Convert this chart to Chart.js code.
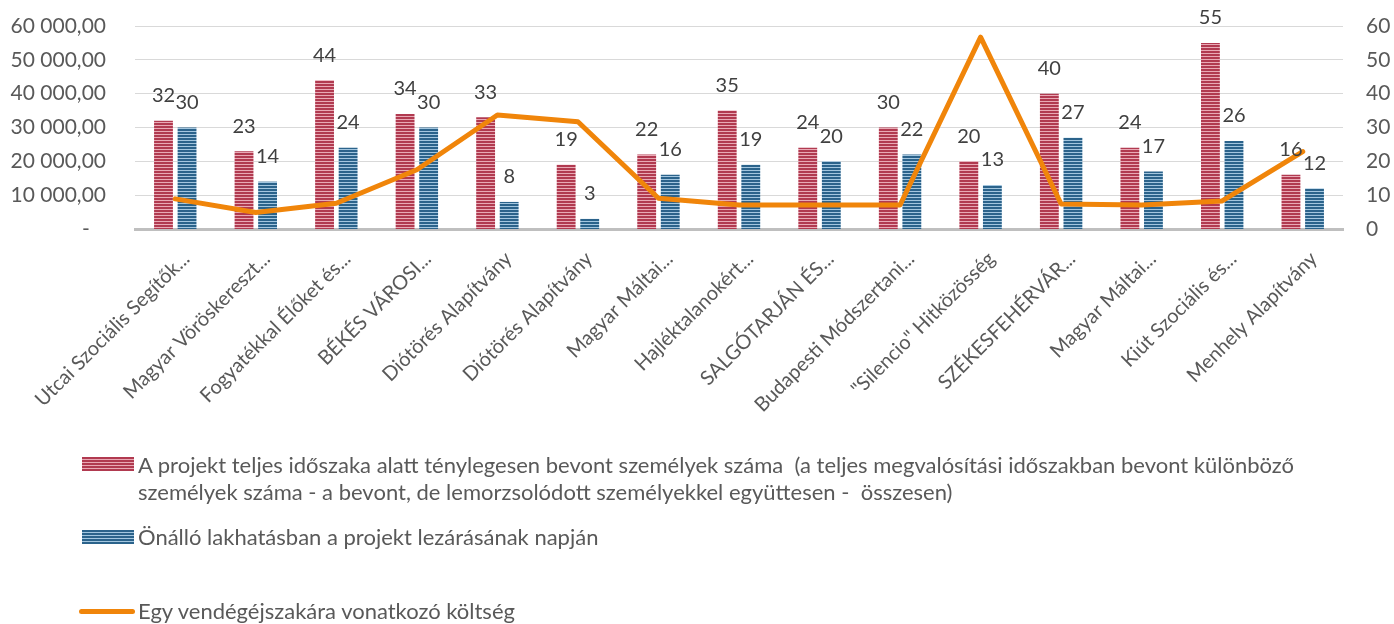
<!DOCTYPE html>
<html>
<head>
<meta charset="utf-8">
<script src="https://cdn.jsdelivr.net/npm/chart.js@4/dist/chart.umd.min.js"></script>
<style>
  html, body { margin: 0; padding: 0; background: #ffffff; }
  #wrap { position: relative; width: 1394px; height: 624px; overflow: hidden; }
  #c { position: absolute; left: 0; top: 0; }
  .leg { position: absolute; font-family: Lato, "Open Sans", sans-serif; font-size: 22px; color: #595959; line-height: 27px; white-space: pre-wrap; }
  .sw { position: absolute; }
</style>
</head>
<body>
<div id="wrap">
  <canvas id="c" width="1394" height="624"></canvas>
  <div id="legend"></div>
</div>
<script>
// ---- data ----
const categories = [
  "Utcai Szociális Segítők...",
  "Magyar Vöröskereszt...",
  "Fogyatékkal Élőket és...",
  "BÉKÉS VÁROSI...",
  "Diótörés Alapítvány",
  "Diótörés Alapítvány",
  "Magyar Máltai...",
  "Hajléktalanokért...",
  "SALGÓTARJÁN ÉS...",
  "Budapesti Módszertani...",
  "\"Silencio\" Hitközösség",
  "SZÉKESFEHÉRVÁR...",
  "Magyar Máltai...",
  "Kiút Szociális és...",
  "Menhely Alapítvány"
];
const involvedPersons = [32, 23, 44, 34, 33, 19, 22, 35, 24, 30, 20, 40, 24, 55, 16];
const independentHousing = [30, 14, 24, 30, 8, 3, 16, 19, 20, 22, 13, 27, 17, 26, 12];
const costPerNight = [8900, 4900, 7600, 17500, 33700, 31700, 9100, 7100, 7100, 7100, 56700, 7400, 7100, 8300, 22900];
const seriesLabels = [
  "A projekt teljes időszaka alatt ténylegesen bevont személyek száma  (a teljes megvalósítási időszakban bevont különböző személyek száma - a bevont, de lemorzsolódott személyekkel együttesen -  összesen)",
  "Önálló lakhatásban a projekt lezárásának napján",
  "Egy vendégéjszakára vonatkozó költség"
];
const leftTicks = [0, 10000, 20000, 30000, 40000, 50000, 60000];
const rightTicks = [0, 10, 20, 30, 40, 50, 60];

// ---- styles ----
const FONT = "Lato, 'Open Sans', sans-serif";
function stripePattern(dark, light) {
  const p = document.createElement('canvas');
  p.width = 4; p.height = 3;
  const g = p.getContext('2d');
  g.fillStyle = dark; g.fillRect(0, 0, 4, 3);
  g.fillStyle = light; g.fillRect(0, 2, 4, 1);
  return document.getElementById('c').getContext('2d').createPattern(p, 'repeat');
}
const redDark = '#b13a50', redLight = '#e9a9b5';
const blueDark = '#2b638b', blueLight = '#a3c6df';
const orange = '#f0850a';

function fmtHu(v) {
  if (v === 0) return '-   ';
  const s = Math.round(v).toString().replace(/\B(?=(\d{3})+(?!\d))/g, ' ');
  return s + ',00';
}

const valueLabels = {
  id: 'valueLabels',
  afterDatasetsDraw(chart) {
    const ctx = chart.ctx;
    ctx.save();
    ctx.font = "20px " + FONT;
    ctx.fillStyle = '#404040';
    ctx.textAlign = 'center';
    ctx.textBaseline = 'middle';
    chart.data.datasets.forEach((ds, di) => {
      if (ds.type !== 'bar') return;
      const meta = chart.getDatasetMeta(di);
      meta.data.forEach((el, i) => {
        ctx.fillText(String(ds.data[i]), el.x, el.y - 25);
      });
    });
    ctx.restore();
  }
};

function noVPad(s) { s.paddingTop = 0; s.paddingBottom = 0; }

const chart = new Chart(document.getElementById('c'), {
  data: {
    labels: categories,
    datasets: [
      {
        type: 'line', label: seriesLabels[2], data: costPerNight, yAxisID: 'y',
        borderColor: orange, borderWidth: 5, pointRadius: 0, tension: 0, order: 0,
        borderCapStyle: 'round', borderJoinStyle: 'round'
      },
      {
        type: 'bar', label: seriesLabels[0], data: involvedPersons, yAxisID: 'y1',
        backgroundColor: stripePattern(redDark, redLight), borderWidth: 0,
        categoryPercentage: 0.585, barPercentage: 0.8, order: 1
      },
      {
        type: 'bar', label: seriesLabels[1], data: independentHousing, yAxisID: 'y1',
        backgroundColor: stripePattern(blueDark, blueLight), borderWidth: 0,
        categoryPercentage: 0.585, barPercentage: 0.8, order: 1
      }
    ]
  },
  options: {
    responsive: false,
    animation: false,
    devicePixelRatio: 1,
    layout: { padding: { top: 26, bottom: 0, left: 0, right: 0 } },
    plugins: { legend: { display: false }, tooltip: { enabled: false } },
    scales: {
      x: {
        grid: { display: false, drawTicks: false },
        border: { color: '#bfbfbf', width: 3 },
        ticks: {
          autoSkip: false, minRotation: 45, maxRotation: 45, padding: 18, labelOffset: 11,
          color: '#595959', font: { family: FONT, size: 20 }
        },
        afterFit(s) { s.height = 624 - 229; s.paddingLeft = 0; s.paddingRight = 0; }
      },
      y: {
        position: 'left', min: 0, max: 60000,
        afterBuildTicks(s) { s.ticks = leftTicks.map(v => ({ value: v })); },
        grid: { color: '#d9d9d9', lineWidth: 1, drawTicks: false },
        border: { display: false },
        ticks: { padding: 29, color: '#595959', font: { family: FONT, size: 21 }, callback: v => fmtHu(v) },
        afterFit(s) { s.width = 135; noVPad(s); }
      },
      y1: {
        position: 'right', min: 0, max: 60,
        afterBuildTicks(s) { s.ticks = rightTicks.map(v => ({ value: v })); },
        grid: { display: false, drawTicks: false },
        border: { display: false },
        ticks: { padding: 23, color: '#595959', font: { family: FONT, size: 21 } },
        afterFit(s) { s.width = 1394 - 1343; noVPad(s); }
      }
    }
  },
  plugins: [valueLabels]
});

// ---- HTML legend built from datasets ----
const legend = document.getElementById('legend');
function addItem(label, kind, textTop, swatchCenterY, textWidth) {
  const sw = document.createElement('div');
  sw.className = 'sw';
  if (kind === 'line') {
    sw.style.cssText = `left:79px;top:${swatchCenterY - 2.5}px;width:56px;height:5px;border-radius:3px;background:${orange};`;
  } else {
    const d = kind === 'red' ? redDark : blueDark, l = kind === 'red' ? redLight : blueLight;
    sw.style.cssText = `left:82px;top:${swatchCenterY - 7}px;width:52px;height:14px;` +
      `background:repeating-linear-gradient(to bottom, ${d} 0px, ${d} 2px, ${l} 2px, ${l} 3px);`;
  }
  legend.appendChild(sw);
  const t = document.createElement('div');
  t.className = 'leg';
  t.style.left = '138px';
  t.style.top = textTop + 'px';
  t.style.width = textWidth + 'px';
  t.textContent = label;
  legend.appendChild(t);
}
addItem(chart.data.datasets[1].label, 'red', 451, 464, 1215);
addItem(chart.data.datasets[2].label, 'blue', 523, 537, 1215);
addItem(chart.data.datasets[0].label, 'line', 597, 611, 1215);
</script>
</body>
</html>
